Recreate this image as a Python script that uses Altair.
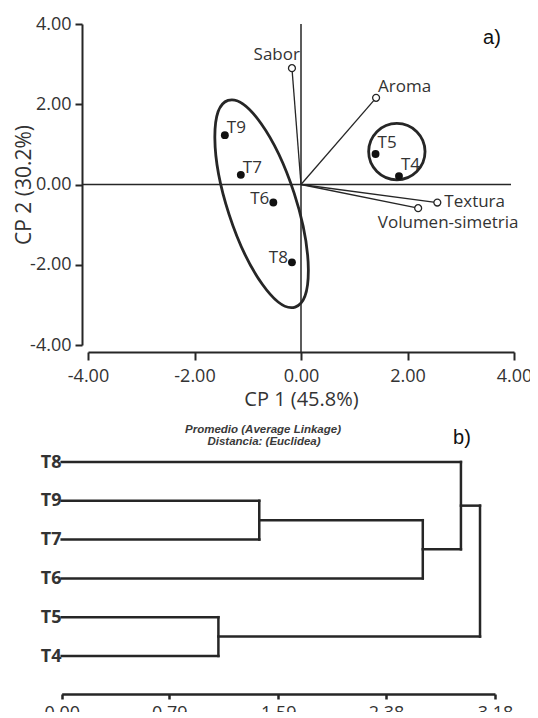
import altair as alt
import pandas as pd

# ---------------- data: panel a (PCA biplot) ----------------
obs_names = ["T4", "T5", "T6", "T7", "T8", "T9"]
obs_cp1 = [1.84, 1.40, -0.52, -1.13, -0.17, -1.43]
obs_cp2 = [0.21, 0.76, -0.45, 0.24, -1.94, 1.23]
obs_label_side = ["ne", "ne", "w", "ene", "w", "ene"]

var_names = ["Sabor", "Aroma", "Textura", "Volumen-simetria"]
var_cp1 = [-0.17, 1.41, 2.56, 2.20]
var_cp2 = [2.90, 2.16, -0.45, -0.59]
var_label_side = ["n", "ne", "e", "s"]

cluster_names = ["T6-T9", "T4-T5"]
cluster_cp1 = [-0.74, 1.80]
cluster_cp2 = [-0.48, 0.82]
cluster_shape = ["ellipse", "circle"]

pca_ticks = [-4, -2, 0, 2, 4]

# ---------------- data: panel b (dendrogram) ----------------
leaf_order = ["T8", "T9", "T7", "T6", "T5", "T4"]
merge_ids = ["m1", "m2", "m3", "m4", "m5"]
merge_a = ["T9", "T5", "m1", "T8", "m4"]
merge_b = ["T7", "T4", "T6", "m3", "m2"]
merge_height = [1.45, 1.15, 2.65, 2.93, 3.07]
dist_ticks = [0.00, 0.79, 1.59, 2.38, 3.18]

subtitle_lines = ["Promedio (Average Linkage)", "Distancia: (Euclidea)"]

# ---------------- tables ----------------
obs_df = pd.DataFrame({"name": obs_names, "cp1": obs_cp1, "cp2": obs_cp2, "side": obs_label_side})
var_df = pd.DataFrame({"name": var_names, "cp1": var_cp1, "cp2": var_cp2, "side": var_label_side})
var_df["ox"] = 0.0
var_df["oy"] = 0.0
lab_df = pd.concat([obs_df, var_df[["name", "cp1", "cp2", "side"]]], ignore_index=True)
clu_df = pd.DataFrame({"name": cluster_names, "cp1": cluster_cp1, "cp2": cluster_cp2, "shape": cluster_shape})
lo, hi = min(pca_ticks), max(pca_ticks)
vline_df = pd.DataFrame({"cp1": [0.0], "cp1b": [0.0], "cp2": [float(hi)], "cp2b": [float(lo)]})
hline_df = pd.DataFrame({"cp1": [float(lo)], "cp1b": [float(hi)], "cp2": [0.0], "cp2b": [0.0]})

pos = {n: float(i) for i, n in enumerate(leaf_order)}
hgt = {n: 0.0 for n in leaf_order}
segs = []
for mid, a, b, h in zip(merge_ids, merge_a, merge_b, merge_height):
    for c in (a, b):
        segs.append({"x": hgt[c], "x2": h, "y": pos[c], "y2": pos[c]})
    segs.append({"x": h, "x2": h, "y": pos[a], "y2": pos[b]})
    pos[mid] = (pos[a] + pos[b]) / 2
    hgt[mid] = h
seg_df = pd.DataFrame(segs)

# ---------------- styles ----------------
FONT = "Open Sans"
INK = "#262626"
TXT = "#333333"
ELLIPSE = "M0,-1A0.315,1,0,1,1,0,1A0.315,1,0,1,1,0,-1Z"
HYPHEN_LABEL = "(datum.value < 0 ? '-' : '') + format(abs(datum.value), '.2f')"

W_A, H_A = 426, 321
xa = alt.Scale(domain=[-4, 4], nice=False, zero=False)
ya = alt.Scale(domain=[-4, 4], nice=False, zero=False)
x_axis_a = alt.Axis(values=pca_ticks, labelExpr=HYPHEN_LABEL, title="CP 1 (45.8%)", offset=7,
                    tickSize=8, labelPadding=7, titlePadding=4, labelFlush=False,
                    labelOverlap=False, grid=False)
y_axis_a = alt.Axis(values=pca_ticks, labelExpr=HYPHEN_LABEL, title="CP 2 (30.2%)", offset=6,
                    tickSize=7, labelPadding=4, titleX=-48, titleFontSize=21,
                    labelOverlap=False, grid=False)

X = alt.X("cp1:Q", scale=xa, axis=x_axis_a)
Y = alt.Y("cp2:Q", scale=ya, axis=y_axis_a)

ref_v = alt.Chart(vline_df).mark_rule(color=INK, strokeWidth=1.5, y2Offset=7).encode(
    x=X, y=Y, y2="cp2b:Q")
ref_h = alt.Chart(hline_df).mark_rule(color=INK, strokeWidth=1.5, xOffset=-5, x2Offset=-3).encode(
    x=X, x2="cp1b:Q", y=Y)
vectors = alt.Chart(var_df).mark_rule(color=INK, strokeWidth=1.3).encode(
    x=alt.X("ox:Q", scale=xa, axis=x_axis_a), y=alt.Y("oy:Q", scale=ya, axis=y_axis_a),
    x2="cp1:Q", y2="cp2:Q")
var_pts = alt.Chart(var_df).mark_point(shape="circle", size=48, filled=True, fill="white",
                                       stroke=INK, strokeWidth=1.3, opacity=1).encode(x=X, y=Y)
obs_pts = alt.Chart(obs_df).mark_circle(size=62, color="#111111", opacity=1).encode(x=X, y=Y)
ellipse = alt.Chart(clu_df).transform_filter("datum.shape == 'ellipse'").mark_point(
    shape=ELLIPSE, size=47200, angle=342, filled=False, stroke=INK, strokeWidth=2.8, opacity=1
).encode(x=X, y=Y)
circle = alt.Chart(clu_df).transform_filter("datum.shape == 'circle'").mark_point(
    shape="circle", size=3180, filled=False, stroke=INK, strokeWidth=2.8, opacity=1
).encode(x=X, y=Y)

side_styles = {
    "ne": dict(align="left", dx=2, dy=-11),
    "ene": dict(align="left", dx=2, dy=-7),
    "w": dict(align="right", dx=-4, dy=-4),
    "n": dict(align="right", dx=8, dy=-13),
    "e": dict(align="left", dx=7, dy=-1),
    "s": dict(align="center", dx=30, dy=15),
}
label_layers = []
for side, st in side_styles.items():
    label_layers.append(
        alt.Chart(lab_df).transform_filter(f"datum.side == '{side}'").mark_text(
            font=FONT, fontSize=17, color=TXT, baseline="middle", **st
        ).encode(x=X, y=Y, text="name:N")
    )

tag_a = alt.Chart(pd.DataFrame({"t": ["a)"]})).mark_text(
    font="Liberation Sans", fontSize=20, color="#111111", align="center", baseline="middle"
).encode(x=alt.value(404), y=alt.value(14), text="t:N")

panel_a = alt.layer(ref_v, ref_h, vectors, ellipse, circle, var_pts, obs_pts,
                    *label_layers, tag_a).properties(width=W_A, height=H_A)

# ---------------- panel b ----------------
H_B = 273
xb = alt.Scale(domain=[0, 3.18], range=[-26.3, 407.0], nice=False, zero=False)
yb = alt.Scale(domain=[0, 5], range=[41, 235], nice=False, zero=False)
label_expr = "[" + ",".join(f"'{n}'" for n in leaf_order) + "][datum.value]"

dendro = alt.Chart(seg_df).mark_rule(color=INK, strokeWidth=2.5, strokeCap="square").encode(
    x=alt.X("x:Q", scale=xb, axis=alt.Axis(values=dist_ticks, format=".2f", title=None,
                                          tickSize=5, labelPadding=5, domainWidth=2.5,
                                          tickWidth=2.5, labelFlush=False, labelOverlap=False,
                                          grid=False)),
    x2="x2:Q",
    y=alt.Y("y:Q", scale=yb, axis=alt.Axis(values=list(range(len(leaf_order))), labelExpr=label_expr,
                                          title=None, domain=False, ticks=False, tickSize=0,
                                          labelPadding=27, labelFontWeight="bold",
                                          labelColor=TXT, grid=False)),
    y2="y2:Q",
)

sub1 = alt.Chart(pd.DataFrame({"t": [subtitle_lines[0]]})).mark_text(
    font="Liberation Sans", fontSize=11.5, fontStyle="italic", fontWeight="bold", color="#3a3a3a",
    align="center", baseline="middle"
).encode(x=alt.value(175), y=alt.value(8.5), text="t:N")
sub2 = alt.Chart(pd.DataFrame({"t": [subtitle_lines[1]]})).mark_text(
    font="Liberation Sans", fontSize=11.5, fontStyle="italic", fontWeight="bold", color="#3a3a3a",
    align="center", baseline="middle"
).encode(x=alt.value(176), y=alt.value(21), text="t:N")
tag_b = alt.Chart(pd.DataFrame({"t": ["b)"]})).mark_text(
    font="Liberation Sans", fontSize=20, color="#111111", align="center", baseline="middle"
).encode(x=alt.value(374), y=alt.value(17), text="t:N")

panel_b = alt.layer(dendro, sub1, sub2, tag_b).properties(width=W_A, height=H_B)

chart = alt.vconcat(panel_a, panel_b, spacing=12).properties(
    padding={"left": 5, "top": 7, "right": -2, "bottom": -10}
).configure_view(stroke=None).configure_axis(
    domainColor=INK, domainWidth=2, tickColor=INK, tickWidth=2,
    labelFont=FONT, labelFontSize=18, labelColor=TXT,
    titleFont=FONT, titleFontSize=20, titleFontWeight="normal", titleColor=TXT,
)

chart.save("out.html", embed_options={"renderer": "svg", "actions": False})
